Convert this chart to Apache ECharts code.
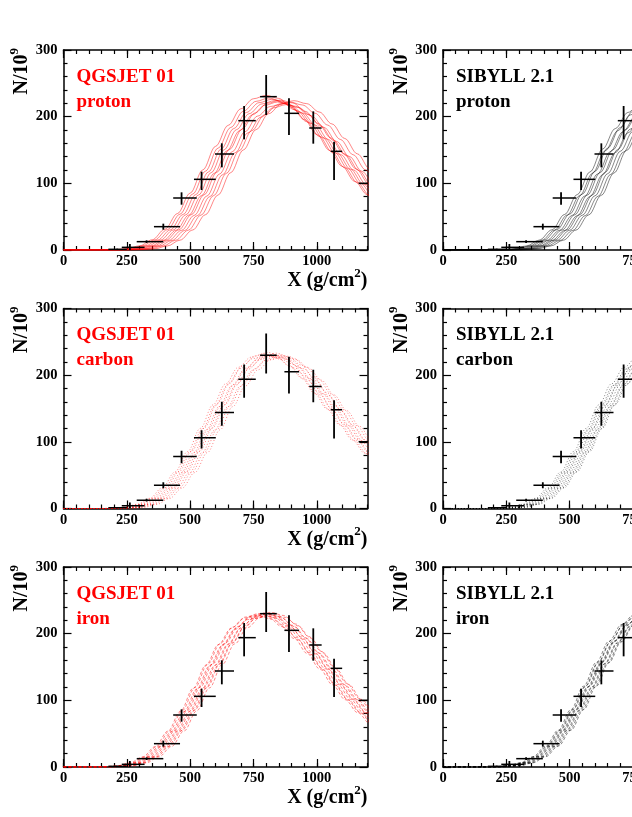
<!DOCTYPE html>
<html><head><meta charset="utf-8">
<script src="https://cdn.jsdelivr.net/npm/echarts@6/dist/echarts.min.js"></script>
<style>html,body{margin:0;padding:0;background:#fff}#c{width:632px;height:817px}</style>
</head><body><div id="c"></div>
<script>
// ---- tick labels ----
const xTickLabels = [0, 250, 500, 750, 1000];
const yTickLabels = [0, 100, 200, 300];

// ---- measured shower profile (data points with error bars) ----
const obsX    = [212, 262, 328, 394, 466, 545, 625, 713, 800, 890, 986, 1068, 1200];
const obsN    = [1, 4, 12.5, 35, 78, 106, 144, 194, 230, 205, 183, 148, 100];
const obsXLo  = [177, 230, 289, 357, 433, 515, 598, 690, 776, 872, 970, 1055, 1165];
const obsXHi  = [250, 320, 394, 460, 526, 601, 673, 759, 842, 930, 1019, 1100, 1235];
const obsNUp  = [1, 5, 2, 4.5, 8.5, 11.5, 16, 22, 32.5, 22.5, 25, 14.5, 0];
const obsNDn  = [1, 4, 2, 4.5, 10, 16, 20, 28, 27.5, 32.5, 23.5, 43, 0];

// ---- common simulated profile shape (N/Nmax vs X - Xmax) ----
const shapeD = [-650,-600,-550,-500,-450,-400,-350,-300,-250,-200,-150,-100,-50,0,50,100,150,200,250,300,350,400,450,500];
const shapeG = [0,0.002,0.008,0.027,0.066,0.134,0.236,0.368,0.518,0.670,0.806,0.913,0.978,1,0.980,0.924,0.844,0.747,0.644,0.541,0.443,0.357,0.281,0.217];

// ---- simulated showers: peak depth (Xmax) and peak size (Nmax) per curve ----
const qgsProtonXmax = [800, 810, 822, 833, 845, 855, 866, 878, 893, 910];
const qgsProtonNmax = [232, 228, 226, 224, 222, 225, 220, 218, 222, 224];
const qgsCarbonXmax = [790, 798, 806, 814, 822, 830, 838, 847, 857, 868];
const qgsCarbonNmax = [232, 230, 234, 228, 231, 229, 233, 227, 230, 228];
const qgsIronXmax   = [762, 769, 776, 783, 790, 797, 804, 811, 818, 826];
const qgsIronNmax   = [228, 230, 226, 229, 231, 227, 230, 228, 232, 229];
const sibProtonXmax = [830, 840, 850, 860, 870, 880, 890, 900, 912, 925];
const sibProtonNmax = [226, 222, 228, 220, 224, 218, 225, 221, 219, 223];
const sibCarbonXmax = [815, 822, 829, 836, 843, 850, 857, 864, 871, 878];
const sibCarbonNmax = [232, 229, 231, 228, 233, 230, 227, 231, 229, 232];
const sibIronXmax   = [805, 810, 815, 820, 825, 830, 836, 842, 848, 855];
const sibIronNmax   = [234, 232, 236, 231, 233, 235, 230, 233, 231, 234];

const panels = [
  {model:'QGSJET 01', prim:'proton', xm:qgsProtonXmax, nm:qgsProtonNmax, color:'#ff0000', ls:'solid', col:0, row:0},
  {model:'SIBYLL 2.1', prim:'proton', xm:sibProtonXmax, nm:sibProtonNmax, color:'#000000', ls:'solid', col:1, row:0},
  {model:'QGSJET 01', prim:'carbon', xm:qgsCarbonXmax, nm:qgsCarbonNmax, color:'#ff0000', ls:[1,2], col:0, row:1},
  {model:'SIBYLL 2.1', prim:'carbon', xm:sibCarbonXmax, nm:sibCarbonNmax, color:'#000000', ls:[1,2], col:1, row:1},
  {model:'QGSJET 01', prim:'iron', xm:qgsIronXmax, nm:qgsIronNmax, color:'#ff0000', ls:[3,2], col:0, row:2},
  {model:'SIBYLL 2.1', prim:'iron', xm:sibIronXmax, nm:sibIronNmax, color:'#000000', ls:[3,2], col:1, row:2}
];

const colLeft = [63.5, 443];
const rowTop = [50, 308.5, 567];
const GW = 304, GH = 200;
const FONT = '"Liberation Serif", "Times New Roman", serif';

const grids = [], xAxes = [], yAxes = [], series = [], graphics = [];

const obsData = obsX.map((x, k) => [x, obsN[k], obsXLo[k], obsXHi[k], obsNUp[k], obsNDn[k]]);

panels.forEach((p, i) => {
  const L = colLeft[p.col], T = rowTop[p.row];
  grids.push({left: L, top: T, width: GW, height: GH, containLabel: false, outerBoundsMode: 'none'});
  const lineC = {color: '#000', width: 1.5};
  const tickC = {color: '#000', width: 1.2};
  const base = {gridIndex: i, type: 'value', min: 0, max: 1200, splitLine: {show: false}};
  // bottom major
  xAxes.push(Object.assign({}, base, {position: 'bottom', interval: 250,
    axisLine: {show: true, onZero: false, lineStyle: lineC},
    axisTick: {show: true, inside: true, length: 8, lineStyle: tickC},
    axisLabel: {show: true, margin: 4, showMaxLabel: false, hideOverlap: false, fontFamily: FONT, fontWeight: 'bold', fontSize: 14.5, color: '#000',
      formatter: v => xTickLabels.indexOf(v) >= 0 ? String(v) : ''}}));
  // bottom minor
  xAxes.push(Object.assign({}, base, {position: 'bottom', interval: 50,
    axisLine: {show: false, onZero: false}, axisTick: {show: true, inside: true, length: 4, lineStyle: tickC},
    axisLabel: {show: false}}));
  // top major
  xAxes.push(Object.assign({}, base, {position: 'top', interval: 250,
    axisLine: {show: true, onZero: false, lineStyle: lineC},
    axisTick: {show: true, inside: true, length: 8, lineStyle: tickC}, axisLabel: {show: false}}));
  // top minor
  xAxes.push(Object.assign({}, base, {position: 'top', interval: 50,
    axisLine: {show: false, onZero: false}, axisTick: {show: true, inside: true, length: 4, lineStyle: tickC},
    axisLabel: {show: false}}));
  const ybase = {gridIndex: i, type: 'value', min: 0, max: 300, interval: 100, splitLine: {show: false},
    minorTick: {show: true, splitNumber: 5, length: 4, lineStyle: tickC}, minorSplitLine: {show: false}};
  yAxes.push(Object.assign({}, ybase, {position: 'left',
    axisLine: {show: true, onZero: false, lineStyle: lineC},
    axisTick: {show: true, inside: true, length: 8, lineStyle: tickC},
    axisLabel: {show: true, margin: 6, fontFamily: FONT, fontWeight: 'bold', fontSize: 14.5, color: '#000',
      formatter: v => yTickLabels.indexOf(v) >= 0 ? String(v) : ''}}));
  yAxes.push(Object.assign({}, ybase, {position: 'right',
    axisLine: {show: true, onZero: false, lineStyle: lineC},
    axisTick: {show: true, inside: true, length: 8, lineStyle: tickC}, axisLabel: {show: false}}));

  const xi = 4 * i, yi = 2 * i;
  p.xm.forEach((xm, c) => {
    const nm = p.nm[c];
    const data = [[0, 0]].concat(shapeD.map((d, k) => [xm + d, nm * shapeG[k]]));
    series.push({type: 'line', xAxisIndex: xi, yAxisIndex: yi, data: data, showSymbol: false, symbol: 'none',
      smooth: 0.35, smoothMonotone: 'x', clip: true, silent: true, z: 2,
      lineStyle: {color: p.color, width: 0.8, opacity: 0.6, type: p.ls}});
  });
  series.push({type: 'custom', xAxisIndex: xi, yAxisIndex: yi, data: obsData, clip: true, z: 5, silent: true,
    encode: {x: 0, y: 1},
    renderItem: function (params, api) {
      const x = api.value(0), n = api.value(1);
      const l = api.coord([api.value(2), n]), r = api.coord([api.value(3), n]);
      const t = api.coord([x, n + api.value(4)]), b = api.coord([x, n - api.value(5)]);
      return {type: 'group', children: [
        {type: 'line', shape: {x1: l[0], y1: l[1], x2: r[0], y2: r[1]}, style: {stroke: '#000', lineWidth: 1.5}},
        {type: 'line', shape: {x1: t[0], y1: t[1], x2: b[0], y2: b[1]}, style: {stroke: '#000', lineWidth: 1.8}}
      ]};
    }});

  const tc = p.col === 0 ? '#ff0000' : '#000000';
  graphics.push({type: 'text', x: L + 13, y: T + 27, style: {text: p.model, fill: tc, font: 'bold 19px ' + FONT, align: 'left', verticalAlign: 'middle'}});
  graphics.push({type: 'text', x: L + 13, y: T + 52, style: {text: p.prim, fill: tc, font: 'bold 19px ' + FONT, align: 'left', verticalAlign: 'middle'}});
  graphics.push({type: 'text', x: L - 43.5, y: T - 2, rotation: Math.PI / 2,
    style: {text: '{a|N/10}{b|9}', align: 'right', verticalAlign: 'middle', fill: '#000',
      rich: {a: {fontFamily: FONT, fontWeight: 'bold', fontSize: 20, fill: '#000', lineHeight: 24, verticalAlign: 'bottom'},
             b: {fontFamily: FONT, fontWeight: 'bold', fontSize: 13, fill: '#000', lineHeight: 24, verticalAlign: 'top'}}}});
  if (p.col === 0) {
    graphics.push({type: 'text', x: L + GW, y: T + GH + 29,
      style: {text: '{a|X (g/cm}{b|2}{a|)}', align: 'right', verticalAlign: 'middle', fill: '#000',
        rich: {a: {fontFamily: FONT, fontWeight: 'bold', fontSize: 20, fill: '#000', lineHeight: 24, verticalAlign: 'bottom'},
               b: {fontFamily: FONT, fontWeight: 'bold', fontSize: 13, fill: '#000', lineHeight: 24, verticalAlign: 'top'}}}});
  }
});

const chart = echarts.init(document.getElementById('c'), null, {renderer: 'canvas'});
chart.setOption({
  animation: false,
  backgroundColor: '#ffffff',
  grid: grids, xAxis: xAxes, yAxis: yAxes, series: series, graphic: graphics
});
</script></body></html>
